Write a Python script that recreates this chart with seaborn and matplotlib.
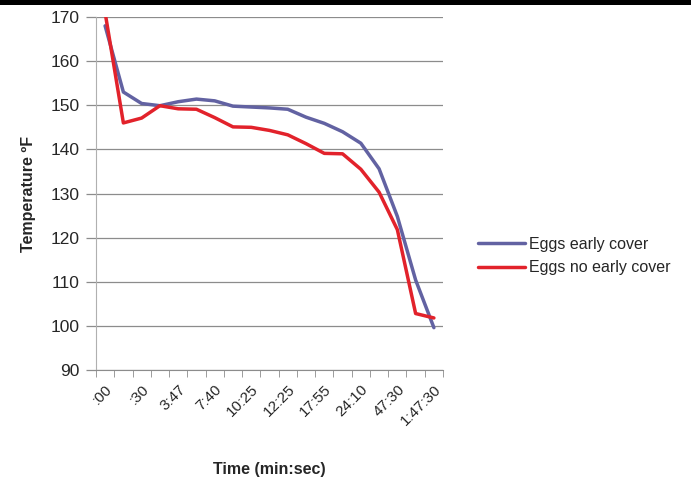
import numpy as np
import pandas as pd
import matplotlib
matplotlib.use('Agg')
import matplotlib.pyplot as plt
import seaborn as sns
from matplotlib.patches import Rectangle

# Readings taken at 19 sample times (only every other time is labelled on the axis)
tick_labels = [':00', ':30', '3:47', '7:40', '10:25', '12:25', '17:55', '24:10', '47:30', '1:47:30']
early_cover = [168, 153, 150.4, 149.9, 150.8, 151.4, 151.0, 149.8, 149.6, 149.4,
               149.1, 147.3, 145.9, 144.0, 141.4, 135.6, 124.8, 110.4, 99.6]
no_early_cover = [171, 146, 147.1, 149.9, 149.2, 149.1, 147.2, 145.1, 145.0, 144.3,
                  143.3, 141.3, 139.1, 139.0, 135.5, 130.3, 121.8, 102.8, 101.8]

sample = np.arange(len(early_cover))
df = pd.DataFrame({
    'sample': np.concatenate([sample, sample]),
    'temp': early_cover + no_early_cover,
    'series': ['Eggs early cover'] * len(sample) + ['Eggs no early cover'] * len(sample),
})

sns.set_style('white')
plt.rcParams['font.family'] = ['Liberation Sans', 'DejaVu Sans']

fig = plt.figure(figsize=(6.99, 4.78), dpi=100)
ax = fig.add_axes([0.1373, 0.2259, 0.4965, 0.7385])

sns.lineplot(data=df, x='sample', y='temp', hue='series',
             palette={'Eggs early cover': '#6262A2', 'Eggs no early cover': '#E2222B'},
             linewidth=2.5, ax=ax, legend=True)

ax.set_xlim(-0.5, len(sample) - 0.5)
ax.set_ylim(90, 170)
ax.set_yticks(np.arange(90, 171, 10))
ax.yaxis.grid(True, color='#8c8c8c', linewidth=0.9)
ax.set_axisbelow(True)
ax.tick_params(axis='y', labelsize=12.5, length=7, width=0.9, color='#8c8c8c', left=True, pad=5)

# category boundaries get the tick marks, labels sit on every other sample
ax.set_xticks(np.arange(-0.5, len(sample), 1), minor=True)
ax.set_xticks(sample[::2])
ax.set_xticklabels(tick_labels, rotation=45, ha='right', rotation_mode='anchor', fontsize=11)
ax.tick_params(axis='x', which='major', length=0, pad=9)
ax.tick_params(axis='x', which='minor', length=5, color='#8c8c8c', bottom=True)

for side in ['top', 'right']:
    ax.spines[side].set_visible(False)
ax.spines['left'].set_color('#b0b0b0')
ax.spines['bottom'].set_color('#8c8c8c')

ax.set_xlabel('Time (min:sec)', fontsize=11.5, fontweight='bold', labelpad=24)
ax.set_ylabel('Temperature ºF', fontsize=11.5, fontweight='bold', labelpad=10)

ax.legend(title=None, frameon=False, fontsize=11.5, handlelength=2.9,
          loc='center left', bbox_to_anchor=(1.06, 0.323), labelspacing=0.55, handletextpad=0.3)

# thin black strip along the top edge of the original image
fig.patches.append(Rectangle((0, 1 - 5 / 478), 691 / 699, 5 / 478, transform=fig.transFigure,
                             facecolor='black', edgecolor='none'))

fig.savefig('out.png', dpi=100)
